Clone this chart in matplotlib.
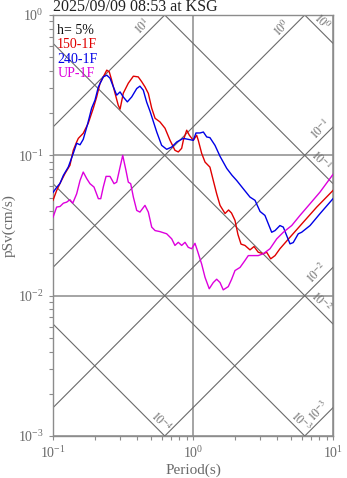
import numpy as np
import matplotlib
matplotlib.use("Agg")
import matplotlib.pyplot as plt
from matplotlib.ticker import LogLocator, NullFormatter

plt.rcParams['font.family'] = ['Liberation Serif', 'DejaVu Serif']
plt.rcParams['mathtext.fontset'] = 'stix'

title = "2025/09/09 08:53 at KSG"
damping_label = "h= 5%"
series_names = ["150-1F", "240-1F", "UP-1F"]
series_colors = ["#e00000", "#0000e6", "#dd00dd"]

# pseudo-velocity response spectra, period (s) vs pSv (cm/s)
period_150 = [0.100, 0.1062, 0.1122, 0.1219, 0.1321, 0.1396, 0.1476, 0.1517, 0.1644, 0.1786,
              0.1941, 0.2051, 0.2168, 0.2286, 0.2421, 0.2523, 0.2624, 0.2773, 0.2924, 0.3013,
              0.3177, 0.3451, 0.3750, 0.4064, 0.4305, 0.4539, 0.4797, 0.5070, 0.5358, 0.5808,
              0.6310, 0.6855, 0.7430, 0.7852, 0.8299, 0.8531, 0.9016, 0.9419, 1.005, 1.062,
              1.091, 1.153, 1.219, 1.321, 1.396, 1.476, 1.560, 1.694, 1.795, 1.884,
              1.995, 2.094, 2.203, 2.350, 2.553, 2.729, 2.924, 3.177, 3.357, 3.589,
              3.855, 4.178, 4.932, 6.138, 7.656, 10.0]
sv_150 = [0.0478, 0.0562, 0.0631, 0.0743, 0.0849, 0.1086, 0.1245, 0.1321, 0.1435, 0.1694,
          0.2168, 0.2606, 0.3266, 0.3622, 0.4046, 0.3936, 0.3436, 0.2773, 0.2275, 0.2133,
          0.2773, 0.3266, 0.3664, 0.3622, 0.3342, 0.3076, 0.2761, 0.2168, 0.1837, 0.1730,
          0.1560, 0.1279, 0.1086, 0.1057, 0.1122, 0.1279, 0.1510, 0.1390, 0.1279, 0.1390,
          0.1279, 0.1033, 0.0895, 0.0824, 0.0662, 0.0532, 0.0440, 0.0385, 0.0408, 0.0388,
          0.0344, 0.0273, 0.0233, 0.0228, 0.0212, 0.0224, 0.0204, 0.0199, 0.0204, 0.0183,
          0.0193, 0.0216, 0.0261, 0.0334, 0.0428, 0.0562]

period_240 = [0.100, 0.1062, 0.1122, 0.1186, 0.1285, 0.1396, 0.1476, 0.1560, 0.1644, 0.1758,
              0.1888, 0.1995, 0.2109, 0.2286, 0.2421, 0.2553, 0.2698, 0.2851, 0.3013, 0.3177,
              0.3396, 0.3648, 0.3963, 0.4178, 0.4416, 0.4667, 0.4932, 0.5508, 0.5970, 0.6486,
              0.7047, 0.7656, 0.8531, 0.9247, 1.005, 1.050, 1.122, 1.186, 1.253, 1.321,
              1.436, 1.560, 1.742, 1.901, 2.051, 2.286, 2.553, 2.773, 3.013, 3.266,
              3.451, 3.648, 3.855, 4.178, 4.416, 4.667, 4.932, 5.200, 5.649, 5.970,
              6.855, 8.072, 10.0]
sv_240 = [0.0544, 0.0591, 0.0631, 0.0720, 0.0824, 0.1033, 0.1219, 0.1189, 0.1300, 0.1638,
          0.2168, 0.2472, 0.3076, 0.3622, 0.3725, 0.3548, 0.3076, 0.2685, 0.2831, 0.2606,
          0.2404, 0.2606, 0.2992, 0.3112, 0.2911, 0.2393, 0.2061, 0.1466, 0.1178, 0.1104,
          0.1146, 0.1245, 0.1321, 0.1300, 0.1279, 0.1443, 0.1443, 0.1466, 0.1352, 0.1337,
          0.1178, 0.0984, 0.0807, 0.0720, 0.0662, 0.0578, 0.0504, 0.0478, 0.0398, 0.0373,
          0.0325, 0.0283, 0.0291, 0.0316, 0.0308, 0.0268, 0.0234, 0.0239, 0.0276, 0.0283,
          0.0316, 0.0384, 0.0491]

period_up = [0.100, 0.1062, 0.1122, 0.1186, 0.1253, 0.1321, 0.1384, 0.1476, 0.1560, 0.1644,
             0.1742, 0.1837, 0.1963, 0.2109, 0.2193, 0.2286, 0.2393, 0.2553, 0.2729, 0.2851,
             0.3013, 0.3148, 0.3319, 0.3451, 0.3589, 0.3750, 0.3963, 0.4178, 0.4539, 0.4797,
             0.5070, 0.5358, 0.5808, 0.6486, 0.7047, 0.7430, 0.7852, 0.8299, 0.8770, 0.9247,
             0.9795, 1.033, 1.074, 1.153, 1.219, 1.306, 1.396, 1.476, 1.560, 1.644,
             1.786, 1.888, 1.995, 2.168, 2.350, 2.483, 2.698, 2.924, 3.177, 3.548,
             3.963, 4.416, 5.070, 5.808, 6.855, 8.072, 10.0]
sv_up = [0.0362, 0.0428, 0.0432, 0.0456, 0.0464, 0.0483, 0.0456, 0.0532, 0.0662, 0.0760,
         0.0682, 0.0628, 0.0594, 0.0491, 0.0491, 0.0594, 0.0708, 0.0708, 0.0628, 0.0644,
         0.0824, 0.1000, 0.0782, 0.0644, 0.0628, 0.0504, 0.0405, 0.0394, 0.0440, 0.0394,
         0.0308, 0.0291, 0.0286, 0.0276, 0.0254, 0.0228, 0.0240, 0.0228, 0.0240, 0.0221,
         0.0216, 0.0236, 0.0210, 0.0168, 0.0135, 0.0112, 0.0124, 0.0131, 0.0124, 0.0110,
         0.0116, 0.0131, 0.0151, 0.0159, 0.0178, 0.0193, 0.0193, 0.0193, 0.0199, 0.0216,
         0.0254, 0.0283, 0.0316, 0.0373, 0.0452, 0.0547, 0.0731]

# tripartite guide lines: displacement (cm) and acceleration (cm/s^2)
disp_levels = [1e-4, 1e-3, 1e-2, 1e-1, 1.0]
disp_labels = [r"$10^{-4}$", r"$10^{-3}$", r"$10^{-2}$", r"$10^{-1}$", r"$10^{0}$"]
disp_label_periods = [0.545, 5.4, 7.5, 7.5, 7.6]
accel_levels = [1e-3, 1e-2, 1e-1, 1.0, 10.0]
accel_labels = [r"$10^{-3}$", r"$10^{-2}$", r"$10^{-1}$", r"$10^{0}$", r"$10^{1}$"]
accel_label_periods = [8.6, 8.4, 8.8, 4.69, 0.477]

W, H = 347, 478
fig = plt.figure(figsize=(W / 100, H / 100), dpi=100)
ax = fig.add_axes([53 / W, 42 / H, 280 / W, 421 / H])
ax.set_xscale("log")
ax.set_yscale("log")
ax.set_xlim(0.1, 10)
ax.set_ylim(1e-3, 1)
ax.set_autoscale_on(False)

grid_c = "#8c8c8c"
diag_c = "#6a6a6a"
text_c = "#6a6a6a"

ax.grid(True, which="major", color=grid_c, lw=1.1, zorder=1)
ax.grid(False, which="minor")

two_pi = 2 * np.pi
t_ends = np.array([0.01, 100.0])
for d in disp_levels:
    ax.plot(t_ends, two_pi * d / t_ends, color=diag_c, lw=0.8, zorder=2)
for a in accel_levels:
    ax.plot(t_ends, a * t_ends / two_pi, color=diag_c, lw=0.8, zorder=2)

off = 3.6
for d, lab, tp in zip(disp_levels, disp_labels, disp_label_periods):
    ax.annotate(lab, xy=(tp, two_pi * d / tp), xytext=(off, off), textcoords="offset points",
                rotation=-45, ha="center", va="center", fontsize=8.5, color=text_c,
                rotation_mode="anchor", zorder=3)
for a, lab, tp in zip(accel_levels, accel_labels, accel_label_periods):
    ax.annotate(lab, xy=(tp, a * tp / two_pi), xytext=(-off, off), textcoords="offset points",
                rotation=45, ha="center", va="center", fontsize=8.5, color=text_c,
                rotation_mode="anchor", zorder=3)

for per, sv, c in zip([period_150, period_240, period_up], [sv_150, sv_240, sv_up], series_colors):
    ax.plot(per, sv, color=c, lw=1.0, zorder=4)

ax.xaxis.set_minor_locator(LogLocator(base=10, subs=np.arange(2, 10)))
ax.yaxis.set_minor_locator(LogLocator(base=10, subs=np.arange(2, 10)))
ax.xaxis.set_minor_formatter(NullFormatter())
ax.yaxis.set_minor_formatter(NullFormatter())
ax.tick_params(which="both", direction="out", length=3.2, width=0.8, color=grid_c,
               labelcolor=text_c, labelsize=10, top=False, right=False)
ax.tick_params(axis="x", pad=3)
for sp in ax.spines.values():
    sp.set_color(grid_c)
    sp.set_linewidth(1.0)

ax.set_xlabel("Period(s)", color=text_c, fontsize=11, va="center", ha="center")
ax.xaxis.set_label_coords(0.5, -0.081)
ax.set_ylabel("pSv(cm/s)", color=text_c, fontsize=11, va="center", ha="center")
ax.yaxis.set_label_coords(-0.157, 0.5)

fig.text(53 / W, 1 - 11 / H, title, fontsize=11.5, color="#222222", ha="left", va="baseline")

ax.text(0.015, 0.964, damping_label, transform=ax.transAxes, fontsize=10, color="#111111",
        ha="left", va="center", zorder=5)
for i, (name, c) in enumerate(zip(series_names, series_colors)):
    ax.text(0.015, 0.964 - 0.0344 * (i + 1), name, transform=ax.transAxes, fontsize=10,
            color=c, ha="left", va="center", zorder=5)

fig.savefig("out.png", dpi=100)
